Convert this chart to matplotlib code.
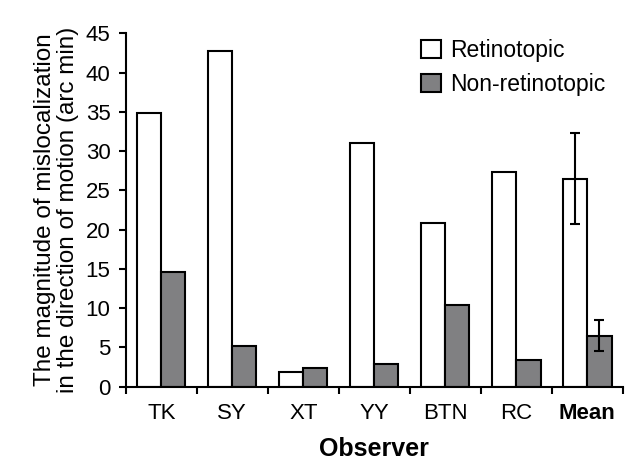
import matplotlib
matplotlib.use("Agg")
import matplotlib.pyplot as plt
import numpy as np

plt.rcParams['font.family'] = ['Liberation Sans', 'DejaVu Sans']

observers = ["TK", "SY", "XT", "YY", "BTN", "RC", "Mean"]
retinotopic = [34.8, 42.8, 1.9, 31.0, 20.8, 27.4, 26.5]
non_retinotopic = [14.6, 5.2, 2.4, 2.9, 10.4, 3.4, 6.5]
retino_err = [0, 0, 0, 0, 0, 0, 5.8]
nonretino_err = [0, 0, 0, 0, 0, 0, 2.0]

fig = plt.figure(figsize=(6.26, 4.63), dpi=100)
ax = fig.add_axes([0.201, 0.165, 0.794, 0.763])

x = np.arange(len(observers))
w = 0.34
ax.bar(x - w/2, retinotopic, w, color="white", edgecolor="black", linewidth=1.5, label="Retinotopic", zorder=2)
ax.bar(x + w/2, non_retinotopic, w, color="#808082", edgecolor="black", linewidth=1.5, label="Non-retinotopic", zorder=2)

n = len(observers)
ax.errorbar(x[-1] - w/2, retinotopic[-1], yerr=retino_err[-1], fmt="none", ecolor="black", elinewidth=1.5, capsize=3.5, capthick=1.5, zorder=3)
ax.errorbar(x[-1] + w/2, non_retinotopic[-1], yerr=nonretino_err[-1], fmt="none", ecolor="black", elinewidth=1.5, capsize=3.5, capthick=1.5, zorder=3)

ax.set_xlim(-0.5, n - 0.5)
ax.set_ylim(0, 45)
ax.set_yticks(np.arange(0, 46, 5))
ax.set_xticks(x)
ax.set_xticklabels(observers)
ax.get_xticklabels()[-1].set_fontweight("bold")
ax.set_xticks(np.arange(-0.5, n, 1.0), minor=True)
ax.tick_params(axis="x", which="major", length=0, pad=12, labelsize=16)
ax.tick_params(axis="x", which="minor", length=5, width=1.5, direction="out")
ax.tick_params(axis="y", length=5, width=1.5, direction="out", labelsize=16, pad=6)

for s in ["top", "right"]:
    ax.spines[s].set_visible(False)
for s in ["left", "bottom"]:
    ax.spines[s].set_linewidth(1.5)

ax.set_xlabel("Observer", fontsize=18, fontweight="bold", labelpad=9)
ax.set_ylabel("The magnitude of mislocalization\nin the direction of motion (arc min)", fontsize=17.5, labelpad=5, linespacing=1.05)

ax.legend(loc="upper left", bbox_to_anchor=(0.594, 0.985), frameon=False, fontsize=16.5,
          borderpad=0, borderaxespad=0,
          handlelength=0.85, handleheight=0.85, handletextpad=0.4, labelspacing=0.5)

fig.savefig("out.png", dpi=100)
